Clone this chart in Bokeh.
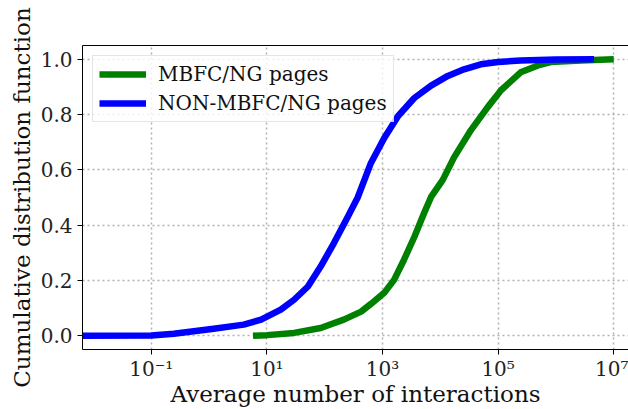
from bokeh.plotting import figure
from bokeh.models import FixedTicker, Range1d, Legend, LegendItem, LogAxis
from bokeh.embed import file_html
from bokeh.resources import INLINE

# ---- data ----
mbfc_x = [5.75, 10, 29.5, 85.1, 213.8, 426.6, 631, 1072, 1585, 2344, 3548, 5248,
          6918, 10965, 17378, 33884, 66069, 112200, 245500, 489800, 812800,
          2.69e6, 1e7]
mbfc_y = [0.0, 0.002, 0.01, 0.028, 0.058, 0.087, 0.115, 0.155, 0.202, 0.274,
          0.357, 0.444, 0.502, 0.563, 0.646, 0.744, 0.827, 0.888, 0.953, 0.978,
          0.99, 0.996, 1.0]

non_x = [0.00316, 0.1, 0.245, 1.2, 3.98, 7.94, 17.4, 29.5, 51.3, 85.1, 144.5,
         251, 372, 631, 1072, 1862, 3548, 6918, 13490, 25700, 50100, 100000,
         245500, 1e6, 4.57e6]
non_y = [0.0, 0.001, 0.007, 0.025, 0.040, 0.058, 0.094, 0.13, 0.178, 0.25,
         0.335, 0.43, 0.50, 0.625, 0.715, 0.795, 0.86, 0.905, 0.94, 0.964, 0.982,
         0.99, 0.996, 0.999, 1.0]

series_names = ["MBFC/NG pages", "NON-MBFC/NG pages"]
series_colors = ["#008000", "#0000ff"]

x_ticks = [0.1, 10.0, 1000.0, 100000.0, 10000000.0]
x_tick_labels = ["10\u207b\u00b9", "10\u00b9", "10\u00b3", "10\u2075", "10\u2077"]
y_ticks = [0.0, 0.2, 0.4, 0.6, 0.8, 1.0]
y_tick_labels = ["0.0", "0.2", "0.4", "0.6", "0.8", "1.0"]

x_label = "Average number of interactions"
y_label = "Cumulative distribution function"

FONT = "DejaVu Serif"
Y_MIN, Y_MAX = -0.05, 1.05

p = figure(frame_width=546, frame_height=304, x_axis_type="log",
           x_range=Range1d(0.00646, 1.8e7), y_range=Range1d(Y_MIN, Y_MAX),
           output_backend="svg", toolbar_location=None,
           min_border_left=82, min_border_right=0,
           min_border_top=45, min_border_bottom=60)
p.outline_line_color = None
p.background_fill_color = "white"

# grid
for g, t in ((p.xgrid[0], x_ticks), (p.ygrid[0], y_ticks)):
    g.ticker = FixedTicker(ticks=t, minor_ticks=[])
    g.grid_line_color = "#b0b0b0"
    g.grid_line_width = 1.5
    g.grid_line_dash = "2 3"

r1 = p.line(mbfc_x, mbfc_y, line_color=series_colors[0], line_width=6.5,
            line_join="round")
r2 = p.line(non_x, non_y, line_color=series_colors[1], line_width=6.5,
            line_join="round")

# axes
xa = p.xaxis[0]
xa.ticker = FixedTicker(ticks=x_ticks, minor_ticks=[])
xa.major_label_overrides = {t: l for t, l in zip(x_ticks, x_tick_labels)}
ya = p.yaxis[0]
ya.ticker = FixedTicker(ticks=y_ticks, minor_ticks=[])
ya.major_label_overrides = {t: l for t, l in zip(y_ticks, y_tick_labels)}

for ax in (xa, ya):
    ax.axis_line_color = "black"
    ax.axis_line_width = 1
    ax.major_tick_line_color = "black"
    ax.major_tick_out = 5
    ax.major_tick_in = 0
    ax.minor_tick_line_color = None
    ax.major_label_text_font = FONT
    ax.major_label_text_font_size = "20px"
    ax.major_label_text_color = "#222222"
    ax.axis_label_text_font = FONT
    ax.axis_label_text_font_size = "23px"
    ax.axis_label_text_font_style = "normal"
    ax.axis_label_text_color = "#111111"

xa.axis_label = x_label
ya.axis_label = y_label
xa.major_label_standoff = 2
xa.axis_label_standoff = -3
ya.major_label_standoff = 5
ya.axis_label_standoff = 3

# top spine (an unlabeled axis above the frame, given a few px of room)
top = LogAxis(ticker=FixedTicker(ticks=x_ticks, minor_ticks=[]),
              major_label_overrides={t: "" for t in x_ticks},
              major_tick_out=4, major_tick_in=0, major_label_standoff=3,
              major_tick_line_color=None, minor_tick_line_color=None,
              axis_line_color="black", axis_line_width=1.2)
p.add_layout(top, "above")

legend = Legend(items=[LegendItem(label=series_names[0], renderers=[r1]),
                       LegendItem(label=series_names[1], renderers=[r2])],
                location="top_left")
legend.margin = 10
legend.padding = 6
legend.spacing = 5
legend.glyph_width = 47
legend.glyph_height = 22
legend.label_height = 22
legend.label_standoff = 12
legend.label_text_font = FONT
legend.label_text_font_size = "20px"
legend.label_text_color = "#111111"
legend.border_line_color = "#cccccc"
legend.border_line_width = 1
legend.background_fill_alpha = 0.8
p.add_layout(legend, "center")

open("out.html", "w").write(file_html(p, INLINE))
